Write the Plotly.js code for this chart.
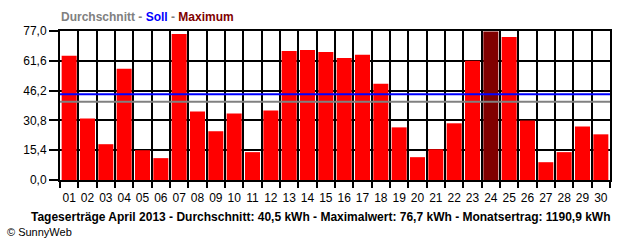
<!DOCTYPE html>
<html>
<head>
<meta charset="utf-8">
<script src="https://cdn.plot.ly/plotly-3.0.1.min.js"></script>
<style>
html,body{margin:0;padding:0;background:#fff;}
#chart{width:640px;height:240px;}
</style>
</head>
<body>
<div id="chart"></div>
<script>
// Data
const days = ["01","02","03","04","05","06","07","08","09","10","11","12","13","14","15","16","17","18","19","20","21","22","23","24","25","26","27","28","29","30"];
const yields = [64.2,31.8,18.5,57.5,15.4,11.3,75.5,35.4,25.2,34.4,14.4,35.9,66.7,67.2,66.2,63.1,64.7,49.8,27.2,11.8,15.9,29.3,61.6,76.7,73.9,30.8,9.2,14.4,27.7,23.6];
const averageValue = 40.5;   // Durchschnitt
const targetValue = 44.3;    // Soll
const yTickVals = [0, 15.4, 30.8, 46.2, 61.6, 77.0];
const yTickText = ["0,0","15,4","30,8","46,2","61,6","77,0"];
const legendTitle = "<span style='color:#808080'>Durchschnitt - </span><span style='color:#0000ff'>Soll</span><span style='color:#808080'> - </span><span style='color:#800000'>Maximum</span>";
const footerText = "Tageserträge April 2013 - Durchschnitt: 40,5 kWh - Maximalwert: 76,7 kWh - Monatsertrag: 1190,9 kWh";
const creditText = "© SunnyWeb";

const maxVal = Math.max(...yields);
const colors = yields.map(v => v === maxVal ? "#800000" : "#ff0000");

const trace = {
  type: "bar",
  x: days,
  y: yields,
  marker: {color: colors, line: {width: 0}},
  hoverinfo: "none"
};

const layout = {
  width: 640, height: 240,
  margin: {l: 60, r: 30, t: 31, b: 60},
  paper_bgcolor: "#ffffff",
  plot_bgcolor: "#ffffff",
  showlegend: false,
  bargap: 0.18,
  font: {family: "Liberation Sans, Arial, sans-serif", size: 11, color: "#000"},
  title: {
    text: legendTitle,
    x: 61/640, xanchor: "left", xref: "container",
    y: 1 - 17/240, yanchor: "middle", yref: "container",
    font: {family: "Liberation Sans, Arial, sans-serif", size: 12, weight: "bold"}
  },
  xaxis: {
    type: "category",
    tickson: "boundaries",
    ticks: "outside", ticklen: 6, tickwidth: 2, tickcolor: "#000",
    tickangle: 0,
    ticklabelstandoff: 6,
    showgrid: true, gridcolor: "#000", gridwidth: 2,
    showline: true, linecolor: "#000", linewidth: 2, mirror: true,
    zeroline: false,
    tickfont: {size: 12},
    fixedrange: true
  },
  yaxis: {
    range: [0, 77],
    tickvals: yTickVals, ticktext: yTickText,
    ticks: "outside", ticklen: 9, tickwidth: 2, tickcolor: "#000",
    showgrid: true, gridcolor: "#000", gridwidth: 2,
    showline: true, linecolor: "#000", linewidth: 2, mirror: true,
    zeroline: false,
    tickfont: {size: 12},
    fixedrange: true
  },
  shapes: [
    {type: "line", xref: "paper", x0: 0, x1: 1, yref: "y", y0: averageValue, y1: averageValue,
     line: {color: "#808080", width: 2}, layer: "above"},
    {type: "line", xref: "paper", x0: 0, x1: 1, yref: "y", y0: targetValue, y1: targetValue,
     line: {color: "#0000ff", width: 2}, layer: "above"}
  ],
  annotations: [
    {text: "<b>" + footerText + "</b>", xref: "paper", yref: "paper",
     x: (321-60)/550, y: (180-217)/149, xanchor: "center", yanchor: "middle",
     showarrow: false, font: {size: 12, color: "#000"}},
    {text: creditText, xref: "paper", yref: "paper",
     x: (5-60)/550, y: (180-232)/149, xanchor: "left", yanchor: "middle",
     showarrow: false, font: {size: 11, color: "#000"}}
  ]
};

Plotly.newPlot("chart", [trace], layout, {staticPlot: true, displayModeBar: false});
</script>
</body>
</html>
